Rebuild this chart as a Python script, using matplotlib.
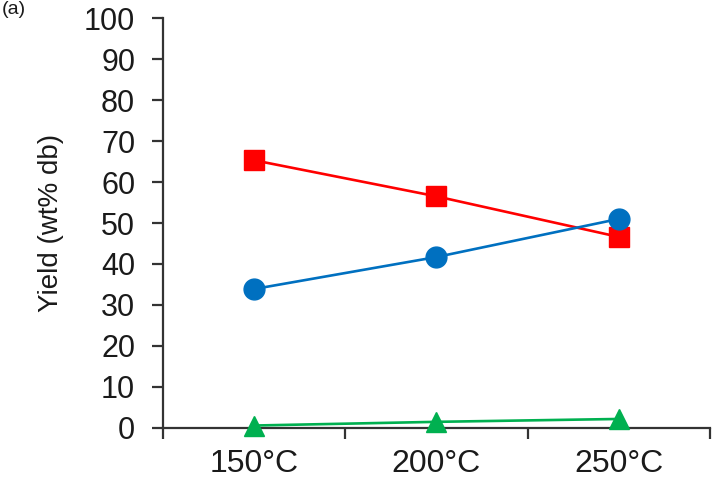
import matplotlib.pyplot as plt

plt.rcParams['font.family'] = ['Liberation Sans', 'DejaVu Sans']

temps = ['150°C', '200°C', '250°C']
red_vals = [65.3, 56.5, 46.6]
blue_vals = [33.9, 41.7, 51.0]
green_vals = [0.6, 1.5, 2.2]

fig = plt.figure(figsize=(7.23, 4.83), dpi=100)
ax = fig.add_axes([0.2254, 0.1139, 0.7566, 0.8488])

x = range(len(temps))
ax.plot(x, red_vals, color='#FF0000', lw=1.9, marker='s', ms=15, zorder=3)
ax.plot(x, blue_vals, color='#0070C0', lw=1.9, marker='o', ms=15, zorder=3)
ax.plot(x, green_vals, color='#00B050', lw=1.9, marker='^', ms=15, zorder=3, clip_on=False)

ax.set_xlim(-0.5, 2.5)
ax.set_ylim(0, 100)
ax.set_yticks(range(0, 101, 10))
ax.set_xticks([-0.5, 0.5, 1.5, 2.5])
ax.set_xticklabels([])
ax.set_xticks(list(x), minor=True)
ax.set_xticklabels(temps, minor=True)

for s in ['top', 'right']:
    ax.spines[s].set_visible(False)
for s in ['left', 'bottom']:
    ax.spines[s].set_linewidth(1.6)
    ax.spines[s].set_color('#333333')

ax.tick_params(axis='y', direction='out', length=8, width=1.6, color='#333333',
               labelsize=22, labelcolor='#1a1a1a', pad=12)
ax.tick_params(axis='x', which='major', direction='out', length=8, width=1.6, color='#333333')
ax.tick_params(axis='x', which='minor', length=0, labelsize=23, labelcolor='#1a1a1a', pad=15)

ax.set_ylabel('Yield (wt% db)', fontsize=20, color='#1a1a1a', labelpad=14)

fig.text(0.003, 0.997, '(a)', fontsize=14, va='top', ha='left', color='#1a1a1a')

fig.savefig('out.png', dpi=100)
